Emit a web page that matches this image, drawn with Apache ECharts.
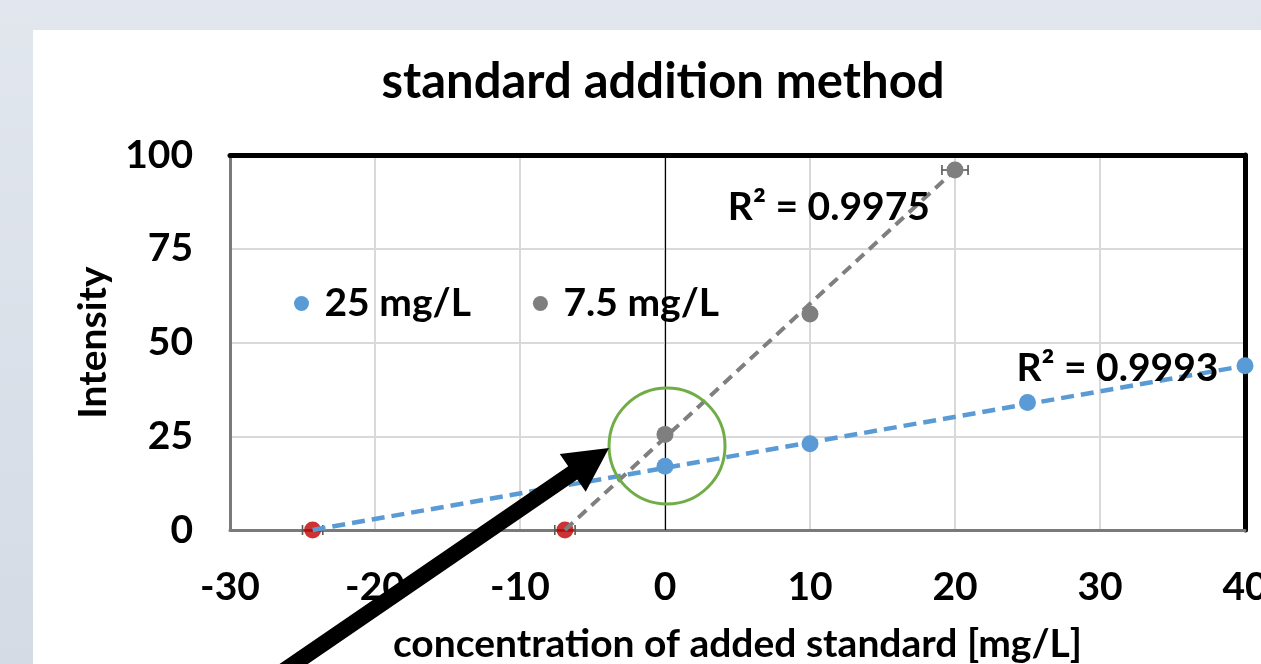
<!DOCTYPE html>
<html><head><meta charset="utf-8">
<script src="https://cdn.jsdelivr.net/npm/echarts@6/dist/echarts.min.js"></script>
<style>
html,body{margin:0;padding:0;width:1261px;height:664px;overflow:hidden;background:linear-gradient(180deg,#e2e7ee 0%,#d4dbe5 100%);}
#panel{position:absolute;left:33px;top:30px;width:1228px;height:634px;background:#fff;}
#chart{position:absolute;left:0;top:0;width:1261px;height:664px;}
</style></head><body>
<div id="panel"></div><div id="chart"></div>
<script>
// ---- data ----
const titleText = 'standard addition method';
const xAxisName = 'concentration of added standard [mg/L]';
const yAxisName = 'Intensity';
const seriesNames = ['25 mg/L', '7.5 mg/L'];
const conc25 = [0, 10, 25, 40];
const int25 = [17, 23, 34, 43.8];
const conc75 = [0, 10, 20];
const int75 = [25.5, 57.6, 96];
const xIntercepts = [-24.3, -6.9];
const trend25 = [[-24.3, 0], [40, 43.8]];
const trend75 = [[-6.9, 0], [20, 96]];
const r2Text = ['R\u00b2 = 0.9993', 'R\u00b2 = 0.9975'];
const r2Pos = [[31.2, 43.2], [11.3, 86.1]];
const errBars = [[20, 96, 0.9], [10, 57.6, 0.4], [-24.3, 0, 0.7], [-6.9, 0, 0.7]];
const xTicks = [-30, -20, -10, 0, 10, 20, 30, 40];
const yTicks = [0, 25, 50, 75, 100];
const highlightCenter = [0.14, 22.4];

const F = 'Lato';
const FS = 39;
const blue = '#5b9bd5', gray = '#7f7f7f', red = '#c00000';
const chart = echarts.init(document.getElementById('chart'), null, {renderer: 'canvas'});

const pair = (xs, ys) => xs.map((x, i) => [x, ys[i]]);
const axisCommon = {
  min: xTicks[0], max: xTicks[xTicks.length - 1], interval: xTicks[1] - xTicks[0]
};
const txt = {fontFamily: F, fontWeight: 'bold', fontSize: FS, color: '#000'};

const option = {
  backgroundColor: 'transparent',
  animation: false,
  title: {
    text: titleText, left: 663, top: 58, textAlign: 'center', padding: 0,
    textStyle: {fontFamily: F, fontWeight: 'bold', fontSize: 49, color: '#000'}
  },
  legend: {
    data: seriesNames, left: 294, top: 284, padding: 0,
    icon: 'circle', itemWidth: 36, itemHeight: 15, itemGap: 62,
    textStyle: txt
  },
  grid: {left: 230, top: 155, width: 1015, height: 375, show: false, outerBoundsMode: 'none', containLabel: false},
  xAxis: [{
    type: 'value', ...axisCommon,
    name: xAxisName, nameLocation: 'middle', nameGap: 95,
    nameTextStyle: txt,
    axisLine: {show: true, onZero: false, lineStyle: {color: '#7a7a7a', width: 3}},
    axisTick: {show: false},
    axisLabel: {...txt, margin: 38},
    splitLine: {show: true, lineStyle: {color: '#d9d9d9', width: 2}}
  }, {
    type: 'value', position: 'top', ...axisCommon,
    axisLine: {show: true, onZero: false, lineStyle: {color: '#000', width: 5}},
    axisTick: {show: false}, axisLabel: {show: false}, splitLine: {show: false}
  }],
  yAxis: [{
    type: 'value', min: yTicks[0], max: yTicks[yTicks.length - 1], interval: yTicks[1] - yTicks[0],
    name: yAxisName, nameLocation: 'middle', nameGap: 117,
    nameTextStyle: txt,
    axisLine: {show: true, onZero: false, lineStyle: {color: '#7a7a7a', width: 3}},
    axisTick: {show: false},
    axisLabel: {...txt, margin: 37},
    splitLine: {show: true, lineStyle: {color: '#d9d9d9', width: 2}}
  }, {
    type: 'value', position: 'right', min: yTicks[0], max: yTicks[yTicks.length - 1], interval: yTicks[1] - yTicks[0],
    axisLine: {show: true, onZero: false, lineStyle: {color: '#000', width: 5}},
    axisTick: {show: false}, axisLabel: {show: false}, splitLine: {show: false}
  }],
  series: [
    {
      name: 'zero', type: 'line', data: [], xAxisIndex: 0, yAxisIndex: 0, silent: true,
      markLine: {
        silent: true, symbol: 'none', label: {show: false},
        lineStyle: {color: '#000', width: 1.2, type: 'solid'},
        data: [{xAxis: 0}]
      }
    },
    {
      name: 'errors', type: 'custom', data: errBars, z: 2, silent: true,
      renderItem: function (params, api) {
        const x = api.value(0), y = api.value(1), e = api.value(2);
        const p1 = api.coord([x - e, y]), p2 = api.coord([x + e, y]);
        const h = 5, st = {stroke: '#595959', lineWidth: 1.6};
        return {type: 'group', children: [
          {type: 'line', shape: {x1: p1[0], y1: p1[1], x2: p2[0], y2: p2[1]}, style: st},
          {type: 'line', shape: {x1: p1[0], y1: p1[1] - h, x2: p1[0], y2: p1[1] + h}, style: st},
          {type: 'line', shape: {x1: p2[0], y1: p2[1] - h, x2: p2[0], y2: p2[1] + h}, style: st}
        ]};
      }
    },
    {
      name: 'x-intercepts', type: 'scatter', data: xIntercepts.map(x => [x, 0]),
      symbolSize: 17, itemStyle: {color: red}, z: 3
    },
    {
      name: 'trend25', type: 'line', data: trend25, symbol: 'none', z: 4,
      lineStyle: {color: blue, width: 4.5, type: [13, 7]},
      markPoint: {
        symbol: 'circle', symbolSize: 0,
        label: {show: true, position: 'inside', formatter: r2Text[0], ...txt},
        data: [{coord: r2Pos[0]}]
      }
    },
    {
      name: 'trend75', type: 'line', data: trend75, symbol: 'none', z: 4,
      lineStyle: {color: gray, width: 4, type: [11, 7]},
      markPoint: {
        symbol: 'circle', symbolSize: 0,
        label: {show: true, position: 'inside', formatter: r2Text[1], ...txt},
        data: [{coord: r2Pos[1]}]
      }
    },
    {
      name: seriesNames[0], type: 'scatter', data: pair(conc25, int25),
      symbolSize: 17, itemStyle: {color: blue, opacity: 1}, z: 5
    },
    {
      name: seriesNames[1], type: 'scatter', data: pair(conc75, int75),
      symbolSize: 17, itemStyle: {color: gray, opacity: 1}, z: 5
    }
  ]
};
chart.setOption(option);

// annotations: green highlight circle and pointer arrow
const c = chart.convertToPixel({gridIndex: 0}, highlightCenter);
const tip = [c[0] - 58, c[1] + 2];
const u = [0.825, -0.565], n = [0.565, 0.825];
const headLen = 44, headHalf = 23, shaftHalf = 8, tailLen = 460;
const B = [tip[0] - headLen * u[0], tip[1] - headLen * u[1]];
const S = [tip[0] - tailLen * u[0], tip[1] - tailLen * u[1]];
const P = (p, k) => [p[0] + k * n[0], p[1] + k * n[1]];
chart.setOption({
  graphic: [
    {type: 'circle', shape: {cx: c[0], cy: c[1], r: 58}, style: {fill: 'none', stroke: '#70ad47', lineWidth: 3}, z: 100},
    {type: 'polygon', shape: {points: [tip, P(B, headHalf), P(B, shaftHalf), P(S, shaftHalf), P(S, -shaftHalf), P(B, -shaftHalf), P(B, -headHalf)]},
     style: {fill: '#000'}, z: 101}
  ]
});
</script>
</body></html>
